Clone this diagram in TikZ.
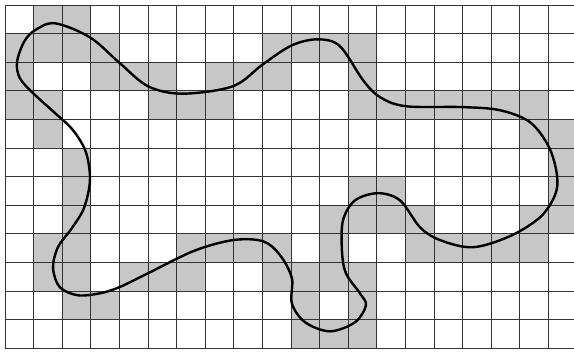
\documentclass[tikz,border=0pt]{standalone}
\usepackage{tikz}
\usetikzlibrary{calc}

\begin{document}
\begin{tikzpicture}[x=1cm, y=1cm,
    cellfill/.style={fill=black!22},
    gridline/.style={draw=black!80, line width=0.9pt},
    loopline/.style={draw=black, line width=2.4pt, line join=round}]
        \clip (-0.175,-0.14) rectangle (19.895,12.175);
        \useasboundingbox (-0.175,-0.14) rectangle (19.895,12.175);

        % shaded cells, row by row from the top
        \foreach \r/\cols in {0/{1,2}, 1/{0,1,2,3,9,10,11,12}, 2/{0,3,4,5,7,8,9,12},
                3/{0,1,5,6,7,12,13,14,15,16,17,18}, 4/{1,18,19}, 5/{2,19}, 6/{2,12,13,19},
                7/{2,11,12,13,14,18,19}, 8/{1,2,6,7,8,9,11,14,15,16,17,18},
                9/{1,2,4,5,6,9,10,11,12}, 10/{2,3,10,12}, 11/{10,11,12}}
            \foreach \c in \cols
                \fill[cellfill] (\c,11-\r) rectangle ++(1,1);

        \draw[gridline] (0,0) grid (20,12);

        % the closed curve
        \draw[loopline] plot[smooth cycle, tension=0.55] coordinates {
            (1.75,11.36) (2.97,10.87) (4.00,9.98) (5.00,9.16) (6.20,8.90)
            (7.97,9.16) (9.02,9.93) (10.03,10.59) (10.94,10.80)
            (11.71,10.56) (12.52,9.37) (13.11,8.78) (14.02,8.46) (16.01,8.43)
            (17.31,8.32) (18.36,7.90) (19.02,7.03) (19.30,6.05) (19.23,5.35)
            (18.71,4.58) (17.66,3.92) (16.36,3.53) (15.21,3.78) (14.51,4.23)
            (13.81,5.17) (13.04,5.42) (12.24,5.17) (11.82,4.48) (11.78,3.43)
            (11.92,2.62) (12.41,1.92) (12.62,1.50) (12.24,0.91) (11.36,0.59)
            (10.49,0.91) (10.03,1.57) (10.03,2.45) (9.62,3.25) (9.02,3.74)
            (7.97,3.78) (6.60,3.40) (5.00,2.62) (3.99,2.13)
            (3.32,1.92) (2.55,1.85) (1.92,2.13) (1.68,2.80) (1.85,3.53)
            (2.34,4.20) (2.76,4.90) (2.97,5.87) (2.83,6.85) (2.38,7.62)
            (1.75,8.22) (0.98,8.92) (0.52,9.44) (0.42,10.00) (0.66,10.70)
            (1.05,11.12)};
\end{tikzpicture}
\end{document}
